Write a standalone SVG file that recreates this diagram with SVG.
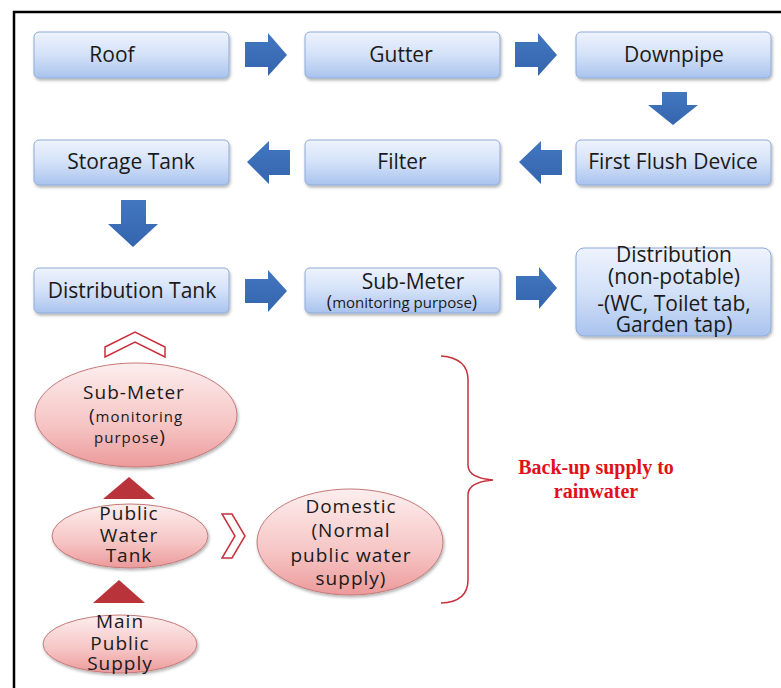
<svg xmlns="http://www.w3.org/2000/svg" width="781" height="688" viewBox="0 0 781 688">
<defs>
<linearGradient id="gb" x1="0" y1="0" x2="0" y2="1">
<stop offset="0" stop-color="#eef3fd"/><stop offset="0.5" stop-color="#d3e1f8"/><stop offset="1" stop-color="#a9c3ee"/>
</linearGradient>
<linearGradient id="gp" x1="0" y1="0" x2="0" y2="1">
<stop offset="0" stop-color="#fdeeee"/><stop offset="0.6" stop-color="#f6c4c4"/><stop offset="1" stop-color="#ec9a9a"/>
</linearGradient>
<linearGradient id="ga" x1="0" y1="0" x2="0" y2="1">
<stop offset="0" stop-color="#4277c0"/><stop offset="1" stop-color="#3465ae"/>
</linearGradient>
<filter id="sh" x="-10%" y="-10%" width="130%" height="140%">
<feDropShadow dx="1" dy="2" stdDeviation="1.5" flood-color="#000" flood-opacity="0.3"/>
</filter>
</defs>
<style>
.box{fill:url(#gb);stroke:#8eabd8;stroke-width:1;filter:url(#sh)}
.ell{fill:url(#gp);stroke:#c47a7a;stroke-width:1;filter:url(#sh)}
.arr{fill:url(#ga)}
.tri{fill:#b8343a}
.chev{fill:#fff;stroke:#c8303c;stroke-width:1.5}
.t{font-family:"Open Sans","Liberation Sans",sans-serif;fill:#1a1a1a;text-anchor:middle}
.b{font-size:21px}
.e{font-size:19px;letter-spacing:1px}
.red{font-family:"Liberation Serif",serif;font-weight:bold;font-size:20px;fill:#e0101c;text-anchor:middle}
</style>
<rect x="0" y="0" width="781" height="688" fill="#fff"/>
<rect x="14" y="12" width="780" height="700" fill="none" stroke="#000" stroke-width="2.5"/>

<g id="roof"><rect class="box" x="34" y="32" width="195" height="46" rx="5"/><text class="t b" x="112" y="62">Roof</text></g>
<g id="gutter"><rect class="box" x="305" y="32" width="195" height="46" rx="5"/><text class="t b" x="401" y="62">Gutter</text></g>
<g id="downpipe"><rect class="box" x="576" y="32" width="195" height="46" rx="5"/><text class="t b" x="674" y="62">Downpipe</text></g>
<g id="storage"><rect class="box" x="34" y="140" width="195" height="45" rx="5"/><text class="t b" x="131" y="169">Storage Tank</text></g>
<g id="filter"><rect class="box" x="305" y="140" width="195" height="45" rx="5"/><text class="t b" x="402" y="169">Filter</text></g>
<g id="firstflush"><rect class="box" x="576" y="140" width="195" height="45" rx="5"/><text class="t b" x="673" y="169">First Flush Device</text></g>
<g id="distTank"><rect class="box" x="34" y="268" width="195" height="45" rx="5"/><text class="t b" x="132" y="298">Distribution Tank</text></g>
<g id="subMeterBox"><rect class="box" x="305" y="268" width="195" height="45" rx="5"/><text class="t" font-size="21" x="413" y="289">Sub-Meter</text><text class="t" x="402" y="308" font-size="15"><tspan font-size="18">(</tspan>monitoring purpose<tspan font-size="18">)</tspan></text></g>
<g id="distNonPotable"><rect class="box" x="576" y="248" width="195" height="88" rx="8"/><text class="t" font-size="21" x="674" y="262">Distribution</text><text class="t" font-size="21" x="674" y="284">(non-potable)</text><text class="t" font-size="21" x="674" y="311">-(WC, Toilet tab,</text><text class="t" font-size="21" x="674" y="332">Garden tap)</text></g>

<g id="subMeterEll"><ellipse class="ell" cx="136" cy="415" rx="101" ry="52"/><text class="t e" font-size="20" x="134" y="399">Sub-Meter</text><text class="t" font-size="15" letter-spacing="1" x="136" y="422"><tspan font-size="19">(</tspan>monitoring</text><text class="t" font-size="15" letter-spacing="1" x="130" y="443">purpose<tspan font-size="19">)</tspan></text></g>
<g id="publicTank"><ellipse class="ell" cx="130" cy="536" rx="78" ry="32"/><text class="t e" x="129" y="520">Public</text><text class="t e" x="129" y="542">Water</text><text class="t e" x="129" y="562">Tank</text></g>
<g id="mainSupply"><ellipse class="ell" cx="120" cy="644" rx="77" ry="29"/><text class="t e" x="120" y="628">Main</text><text class="t e" x="120" y="650">Public</text><text class="t e" x="120" y="670">Supply</text></g>
<g id="domestic"><ellipse class="ell" cx="350" cy="542" rx="93" ry="53"/><text class="t e" x="351" y="513">Domestic</text><text class="t e" x="351" y="537">(Normal</text><text class="t e" x="351" y="562">public water</text><text class="t e" x="351" y="585">supply)</text></g>

<g id="backup"><text class="red" x="596" y="474">Back-up supply to</text><text class="red" x="596" y="498">rainwater</text></g>

<g id="connectors">
<polygon class="arr" points="245,42 268,42 268,33 287,55 268,76 268,67 245,67"/>
<polygon class="arr" points="515,42 538,42 538,33 557,55 538,76 538,67 515,67"/>
<polygon class="arr" points="662,92 687,92 687,105 698,105 673,125 648,105 662,105"/>
<polygon class="arr" points="290,150 269,150 269,141 247,162 269,184 269,175 290,175"/>
<polygon class="arr" points="562,150 541,150 541,141 519,162 541,184 541,175 562,175"/>
<polygon class="arr" points="121,200 146,200 146,224 158,224 133,247 108,224 121,224"/>
<polygon class="arr" points="245,279 268,279 268,270 287,291 268,312 268,303 245,303"/>
<polygon class="arr" points="516,276 539,276 539,267 557,288 539,309 539,300 516,300"/>
<polygon class="chev" points="105,347 135,332 165,347 165,357 135,342 105,357"/>
<polygon class="tri" points="103,499 129,477 155,499"/>
<polygon class="tri" points="93,603 119,580 145,603"/>
<polygon class="chev" points="222,514 232,514 245,536 232,558 222,558 235,536"/>
<path d="M441,356 Q468,358 468,380 L468,465 Q468,478 493,480 Q468,482 468,495 L468,580 Q468,602 441,603" fill="none" stroke="#c8303c" stroke-width="1.5"/>
</g>
</svg>
